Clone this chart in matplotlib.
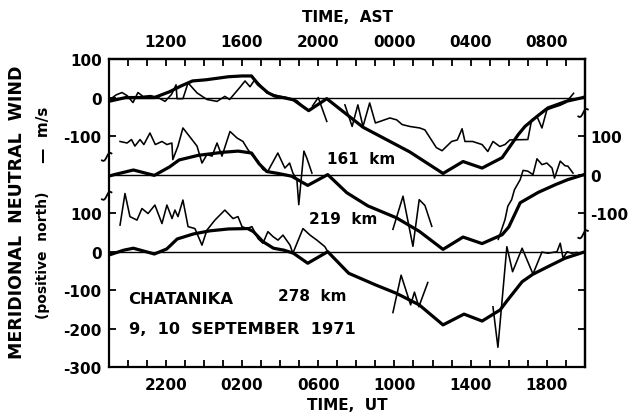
#!/usr/bin/env python3
"""
Meridional neutral wind over Chatanika, 9-10 September 1971,
at 161, 219 and 278 km (stacked with vertical offsets).
"""
import numpy as np
import matplotlib
matplotlib.use("Agg")
import matplotlib.pyplot as plt
import matplotlib.transforms as mtransforms

plt.rcParams['font.family'] = ['DejaVu Sans']
plt.rcParams['font.weight'] = 'bold'

# time in hours UT counted from 0000 UT 9 Sept (values > 24 fall on 10 Sept)
# wind in m/s, positive north, relative to each panel's own zero line

# ---- 161 km ----
model_161_t = [19.0, 19.9, 21.4, 22.2, 22.8, 23.4, 24.1, 24.7, 25.3, 26.0, 26.5, 26.85,
               27.35, 27.7, 28.15, 28.7, 29.5, 30.45, 32.35, 34.8, 36.55, 37.6, 38.6,
               39.65, 40.5, 40.85, 41.48, 42.05, 43.0, 43.9, 44.0]
model_161_v = [-10, 0, 0, 15, 30, 43, 46, 50, 54, 56, 56, 34,
               13, 4, 0, -6, -34, -3, -77, -141, -197, -166, -183,
               -156, -96, -75, -49, -27, -10, 0, 2]
obs_161 = [
    ([19.07, 19.4, 19.7, 19.97, 20.28, 20.54, 20.8, 21.2, 21.6, 21.96, 22.3, 22.54,
      22.59, 22.9, 23.17, 23.64, 24.16, 24.69, 25.1, 25.35, 25.9, 26.16, 26.42, 26.68,
      27.0, 27.3, 28.0, 28.36, 28.88, 29.3],
     [-5, 7, 13, 5, -13, 13, 3, 5, 0, -10, 8, 33,
      -3, -3, 38, 12, -5, -10, 3, -5, 27, 43, 28, 47,
      30, 12, 3, 0, -8, -28]),
    ([29.7, 30.0, 30.45],
     [-22, 0, -62]),
    ([31.4, 31.78, 32.08, 32.35, 32.7, 33.0, 33.24, 33.76, 34.12, 34.4, 34.8, 35.33,
      35.6, 36.2, 36.5, 37.0, 37.3, 37.55, 37.7, 38.1, 38.6, 38.9, 39.17, 39.53,
      39.8, 40.06, 41.0, 41.2, 41.48, 41.74, 42.0, 42.27, 42.7, 43.0, 43.4],
     [-19, -75, -19, -75, -14, -66, -62, -53, -58, -70, -75, -79,
      -84, -130, -138, -114, -110, -81, -114, -114, -122, -140, -114, -127,
      -122, -110, -109, -58, -49, -79, -32, -27, -20, -13, 11]),
]

# ---- 219 km ----
model_219_t = [19.0, 19.3, 20.3, 21.4, 22.2, 22.7, 23.7, 25.0, 25.8, 26.5, 26.9, 27.3,
               27.9, 28.6, 29.45, 30.5, 31.5, 32.6, 34.1, 35.3, 36.55, 37.6, 38.6,
               39.65, 40.0, 40.6, 41.55, 42.45, 43.1, 43.95]
model_219_v = [-4, 0, 12, -2, 20, 38, 50, 58, 61, 56, 28, 8,
               3, -4, -28, 0, -47, -81, -112, -147, -194, -162, -179,
               -156, -136, -73, -46, -26, -13, 0]
obs_219 = [
    ([19.6, 19.97, 20.2, 20.38, 20.65, 20.85, 21.17, 21.45, 21.8, 22.06, 22.32, 22.37,
      22.64, 22.9, 23.17, 23.64, 23.9, 24.16, 24.43, 24.69, 24.95, 25.37, 25.74, 26.05,
      26.31, 26.58, 26.84, 27.1, 27.36, 27.88, 28.25, 28.5, 28.67, 28.88, 28.98, 29.15,
      29.25, 29.4, 29.67],
     [86, 82, 91, 74, 91, 78, 108, 78, 86, 78, 82, 39,
      74, 121, 104, 74, 30, 52, 48, 82, 48, 112, 95, 86,
      65, 48, 35, 13, 9, 56, 17, 30, 4, -13, -78, 10,
      61, 43, 4]),
    ([33.92, 34.45, 34.97, 35.3, 35.6, 35.96],
     [-142, -56, -186, -65, -80, -134]),
    ([39.45, 39.8, 39.95, 40.15, 40.3, 40.6, 40.75, 41.0, 41.27, 41.48, 41.74, 42.0,
      42.27, 42.4, 42.7, 42.95, 43.1, 43.37],
     [-168, -117, -82, -65, -39, -13, 11, 9, 0, 41, 26, 30,
      17, -9, 35, 23, 22, 4]),
]

# ---- 278 km ----
model_278_t = [19.0, 19.8, 20.3, 21.4, 22.05, 22.6, 23.45, 24.3, 25.3, 26.3, 26.6, 27.1,
               27.65, 28.2, 28.7, 29.45, 30.5, 31.6, 33.0, 34.1, 35.3, 36.55, 37.65,
               38.6, 39.55, 39.9, 40.7, 41.25, 42.05, 42.95, 43.95]
model_278_v = [-9, 4, 9, -6, 7, 33, 46, 54, 59, 60, 52, 26,
               9, 4, -4, -30, 0, -56, -86, -108, -138, -190, -162,
               -180, -151, -128, -78, -59, -39, -17, -1]
obs_278 = [
    ([19.6, 19.86, 20.12, 20.49, 20.75, 21.07, 21.43, 21.8, 22.06, 22.33, 22.48, 22.64,
      22.9, 23.17, 23.53, 23.9, 24.16, 24.58, 25.1, 25.53, 25.79, 26.0, 26.26, 26.52,
      26.84, 27.1, 27.36, 27.63, 27.89, 28.15, 28.52, 28.67, 29.2, 29.57, 29.93, 30.35,
      30.5],
     [69, 151, 91, 82, 112, 99, 121, 73, 121, 86, 108, 91,
      134, 65, 60, 17, 56, 82, 108, 86, 91, 65, 60, 65,
      34, 22, 52, 39, 30, 43, 17, -4, 60, 43, 30, 13,
      0]),
    ([33.92, 34.35, 34.85, 35.05, 35.28, 35.75],
     [-158, -61, -138, -105, -143, -80]),
    ([39.17, 39.43, 39.9, 40.2, 40.7, 41.27, 41.74, 42.06, 42.53, 42.7, 42.85, 43.06,
      43.3, 43.57],
     [-143, -248, 13, -52, 9, -58, -1, -4, 0, 22, -17, 0,
      -4, -2]),
]

ut_hours = list(range(20, 44))
panels = [('161', model_161_t, model_161_v, obs_161, 400),
          ('219', model_219_t, model_219_v, obs_219, 200),
          ('278', model_278_t, model_278_v, obs_278, 0)]

W, H = 631, 414
fig = plt.figure(figsize=(W / 100, H / 100), dpi=100)
ax = fig.add_axes([108.6 / W, 1 - 368.3 / H, (585 - 108.6) / W, (368.3 - 60) / H])
ax.set_xlim(19, 44)
ax.set_ylim(-300, 500)

for name, mt, mv, obs, off in panels:
    ax.axhline(off, color='black', lw=1.0, zorder=1)
    ax.plot(mt, np.asarray(mv) + off, color='black', lw=2.3, zorder=3)
    for t, v in obs:
        ax.plot(t, np.asarray(v) + off, color='black', lw=1.15, zorder=2)

for s in ax.spines.values():
    s.set_linewidth(1.6)

# bottom axis: UT
ax.set_xticks(ut_hours)
ax.set_xticklabels(['%02d00' % (h % 24) if h % 4 == 2 else '' for h in ut_hours])
ax.tick_params(axis='x', direction='in', length=5, width=1.3, labelsize=11, pad=7)

# top axis: AST = UT - 10
top = ax.secondary_xaxis('top')
top.set_xticks(ut_hours)
top.set_xticklabels(['%02d00' % ((h - 10) % 24) if h % 4 == 2 else '' for h in ut_hours])
top.tick_params(axis='x', direction='in', length=5, width=1.3, labelsize=11, pad=7)
top.spines['top'].set_linewidth(1.6)

# left axis: upper panel labels then lower panel labels
ax.set_yticks([-300, -200, -100, 0, 100, 300, 400, 500])
ax.set_yticklabels(['-300', '-200', '-100', '0', '100', '-100', '0', '100'])
ax.tick_params(axis='y', direction='in', length=5, width=1.3, labelsize=11, pad=5)

# right axis: middle panel
right = ax.secondary_yaxis('right')
right.set_yticks([-200, -100, 100, 200, 300])
right.set_yticklabels(['', '', '-100', '0', '100'])
right.tick_params(axis='y', direction='in', length=5, width=1.3, labelsize=11, pad=4)
right.spines['right'].set_linewidth(1.6)

# axis break squiggles
trans = mtransforms.blended_transform_factory(ax.transAxes, ax.transData)
tt = np.linspace(-1, 1, 20)
for xa, yv in [(0.0, 246), (0.0, 145), (1.0, 360), (1.0, 45)]:
    ax.plot(xa - 0.004 + 0.010 * tt, yv + 9 * tt + 5 * np.sin(np.pi * tt),
            color='black', lw=1.3, transform=trans, clip_on=False, zorder=5)

# labels
fs = 11
fig.text(361 / W, 1 - 160 / H, '161  km', ha='center', va='center', fontsize=fs)
fig.text(343 / W, 1 - 220 / H, '219  km', ha='center', va='center', fontsize=fs)
fig.text(312 / W, 1 - 297 / H, '278  km', ha='center', va='center', fontsize=fs)
fig.text(128 / W, 1 - 300 / H, 'CHATANIKA', ha='left', va='center', fontsize=11.8)
fig.text(129 / W, 1 - 330 / H, '9,  10  SEPTEMBER  1971', ha='left', va='center',
         fontsize=11.6)

fig.text(347 / W, 1 - 18 / H, 'TIME,  AST', ha='center', va='center', fontsize=fs)
fig.text(347 / W, 1 - 406 / H, 'TIME,  UT', ha='center', va='center', fontsize=fs)

fig.text(17 / W, 1 - 212 / H, 'MERIDIONAL  NEUTRAL  WIND', rotation=90,
         ha='center', va='center', fontsize=12.5)
fig.text(43 / W, 1 - 255 / H, '(positive  north)', rotation=90,
         ha='center', va='center', fontsize=10)
fig.text(43 / W, 1 - 135 / H, '\u2014  m/s', rotation=90,
         ha='center', va='center', fontsize=fs)

fig.savefig('out.png', dpi=100)
